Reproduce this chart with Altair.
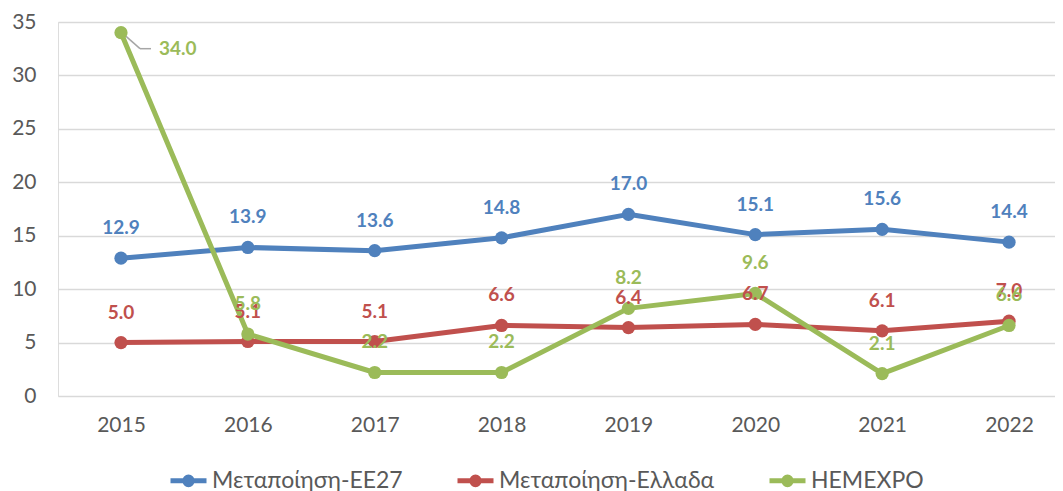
import altair as alt
import pandas as pd

years = ["2015", "2016", "2017", "2018", "2019", "2020", "2021", "2022"]
series_names = ["Μεταποίηση-ΕΕ27", "Μεταποίηση-Ελλαδα", "HEMEXPO"]
ee27 = [12.9, 13.9, 13.6, 14.8, 17.0, 15.1, 15.6, 14.4]
ellada = [5.0, 5.1, 5.1, 6.6, 6.4, 6.7, 6.1, 7.0]
hemexpo = [34.0, 5.8, 2.2, 2.2, 8.2, 9.6, 2.1, 6.6]
colors = ["#4F81BD", "#C0504D", "#9BBB59"]
y_ticks = [0, 5, 10, 15, 20, 25, 30, 35]

rows = []
for name, vals in zip(series_names, [ee27, ellada, hemexpo]):
    for yr, v in zip(years, vals):
        rows.append({"year": yr, "series": name, "value": v})
df = pd.DataFrame(rows)

FONT = "Lato, 'Noto Sans', sans-serif"

legend_path = ("M-1,0L1,0"
               "M-0.05,0a0.05,0.05 0 1,0 0.1,0a0.05,0.05 0 1,0 -0.1,0"
               "M-0.13,0a0.13,0.13 0 1,0 0.26,0a0.13,0.13 0 1,0 -0.26,0"
               "M-0.21,0a0.21,0.21 0 1,0 0.42,0a0.21,0.21 0 1,0 -0.42,0")

x_enc = alt.X("year:O", sort=years,
              scale=alt.Scale(type="point", padding=0.4295, align=0.578),
              axis=alt.Axis(title=None, labelAngle=0, labelFontSize=21, labelColor="#595959",
                            labelFont=FONT, domain=False, ticks=False, labelPadding=18, grid=False))
y_enc = alt.Y("value:Q", scale=alt.Scale(domain=[0, 35], nice=False),
              axis=alt.Axis(title=None, values=y_ticks, grid=True, gridColor="#d9d9d9", gridWidth=1.3,
                            domain=False, ticks=False, labelFontSize=21, labelColor="#595959",
                            labelFont=FONT, labelPadding=22))
color_scale = alt.Scale(domain=series_names, range=colors)

layers = []
for i, name in enumerate(series_names):
    base = alt.Chart(df).transform_filter(alt.datum.series == name)
    if i == 0:
        legend = alt.Legend(title=None, orient="none", legendX=110, legendY=438, direction="horizontal",
                            symbolType=legend_path, symbolSize=1296, symbolStrokeWidth=5,
                            labelFontSize=23, labelFont=FONT, labelColor="#595959", labelLimit=400,
                            columnPadding=44, labelOffset=3)
        color = alt.Color("series:N", scale=color_scale, legend=legend)
    else:
        color = alt.Color("series:N", scale=color_scale, legend=None)
    line = base.mark_line(strokeWidth=5, strokeCap="round", strokeJoin="round").encode(
        x=x_enc, y=y_enc, color=color)
    pts = base.mark_circle(size=175, opacity=1).encode(
        x=x_enc, y=y_enc, color=alt.Color("series:N", scale=color_scale, legend=None))
    layers += [line, pts]

labels = alt.Chart(df).transform_filter("datum.value < 30").mark_text(
    dy=-30, fontSize=19, fontWeight="bold", font=FONT, baseline="middle").encode(
    x=x_enc, y=y_enc, text=alt.Text("value:Q", format=".1f"),
    color=alt.Color("series:N", scale=color_scale, legend=None))

callout = alt.Chart(df).transform_filter("datum.value >= 30")
lead1 = callout.mark_rule(color="#a6a6a6", strokeWidth=1.5, xOffset=2, yOffset=1,
                          x2Offset=19, y2Offset=16).encode(x=x_enc, x2="year:O", y=y_enc, y2="value:Q")
lead2 = callout.mark_rule(color="#a6a6a6", strokeWidth=1.5, xOffset=19, yOffset=16,
                          x2Offset=30, y2Offset=16).encode(x=x_enc, x2="year:O", y=y_enc, y2="value:Q")
callout_text = callout.mark_text(dx=38, dy=16, align="left", baseline="middle", fontSize=19,
                                 fontWeight="bold", font=FONT).encode(
    x=x_enc, y=y_enc, text=alt.Text("value:Q", format=".1f"),
    color=alt.Color("series:N", scale=color_scale, legend=None))

chart = alt.layer(lead1, lead2, *layers, labels, callout_text).properties(
    width=997, height=374,
    padding={"left": 50, "top": 14, "right": 0, "bottom": 100},
    autosize=alt.AutoSizeParams(type="none"),
).configure_view(stroke=None).configure(background="white")

chart.save("out.html", embed_options={"renderer": "svg", "actions": False})
